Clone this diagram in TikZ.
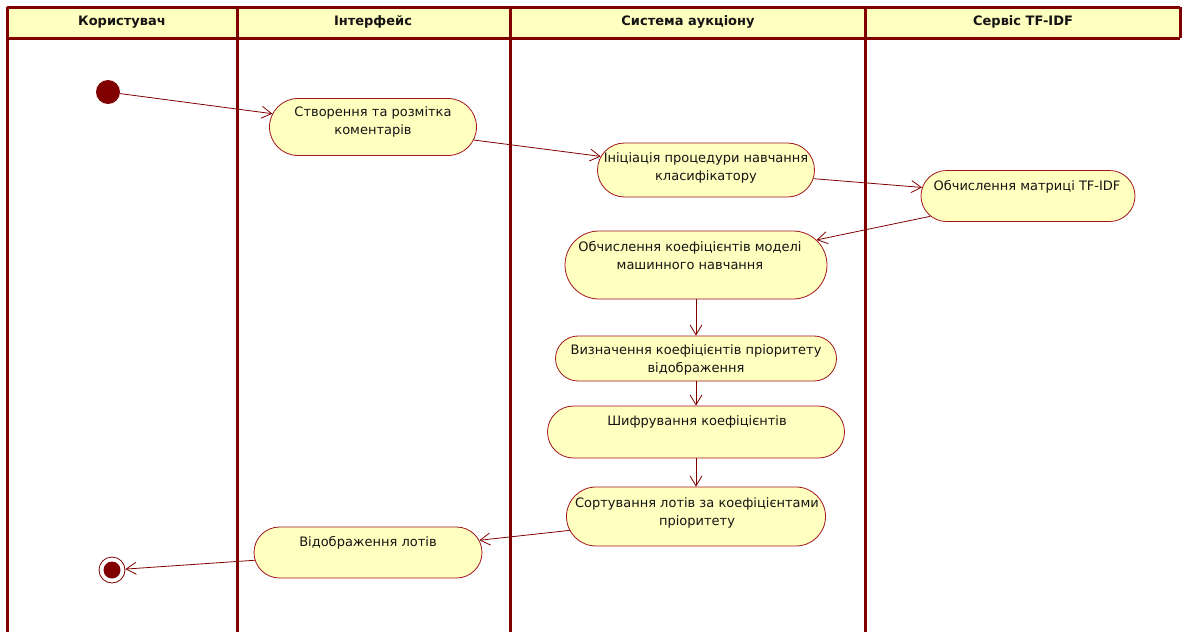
\documentclass[tikz,border=0pt]{standalone}
\usepackage{fontspec}
\setmainfont{DejaVu Sans}
\usetikzlibrary{shapes.misc,arrows.meta}
\definecolor{lane}{RGB}{128,0,0}
\definecolor{hdr}{RGB}{255,255,192}
\definecolor{actfill}{RGB}{255,255,192}
\definecolor{actline}{RGB}{160,20,30}
\definecolor{txt}{RGB}{20,20,20}
\tikzset{
  lanestyle/.style={draw=lane, line width=3pt},
  headtext/.style={font=\bfseries\fontsize{13}{15}\selectfont, text=txt, anchor=center},
  act/.style={rounded rectangle, draw=actline, fill=actfill, line width=0.8pt, inner sep=0pt},
  lbl/.style={font=\fontsize{13}{18}\selectfont, text=txt, align=center, inner sep=0pt},
  flow/.style={draw=lane, line width=0.8pt, -{Straight Barb[length=10pt,width=12pt,line width=0.8pt]}},
}
\begin{document}
\begin{tikzpicture}[x=1pt,y=-1pt]
\useasboundingbox (0,0) rectangle (1182,632);
% header
\fill[hdr] (7,7) rectangle (1180,38);
\draw[lanestyle] (7,7) -- (1180,7);
\draw[lanestyle] (7,38) -- (1180,38);
\draw[lanestyle] (7,7) -- (7,632);
\draw[lanestyle] (237,7) -- (237,632);
\draw[lanestyle] (510,7) -- (510,632);
\draw[lanestyle] (865,7) -- (865,632);
\draw[lanestyle] (1180,7) -- (1180,38);
\node[headtext] (h1) at (122,22) {Користувач};
\node[headtext] (h2) at (373,22) {Інтерфейс};
\node[headtext] (h3) at (688,22) {Система аукціону};
\node[headtext] (h4) at (1023,22) {Сервіс TF-IDF};
% start
\node[circle, fill=lane, minimum size=24pt, inner sep=0pt] (start) at (108,92) {};
% activities
\node[act, minimum width=207pt, minimum height=57pt] (A) at (373,127) {};
\node[lbl] (tA) at (373,122) {Створення та розмітка\\коментарів};
\node[act, minimum width=217pt, minimum height=54pt] (B) at (706,170) {};
\node[lbl] (tB) at (706,168) {Ініціація процедури навчання\\класифікатору};
\node[act, minimum width=214pt, minimum height=51pt] (C) at (1028,196) {};
\node[lbl] (tC) at (1027,187) {Обчислення матриці TF-IDF};
\node[act, minimum width=262pt, minimum height=68pt] (D) at (696,265) {};
\node[lbl] (tD) at (690,255.5) {Обчислення коефіцієнтів моделі\\машинного навчання};
\node[act, minimum width=281pt, minimum height=45pt] (E) at (696,358.5) {};
\node[lbl] (tE) at (696,359.5) {Визначення коефіцієнтів пріоритету\\відображення};
\node[act, minimum width=297pt, minimum height=52pt] (F) at (696,432) {};
\node[lbl] (tF) at (697,422) {Шифрування коефіцієнтів};
\node[act, minimum width=259pt, minimum height=59pt] (G) at (696,516.5) {};
\node[lbl] (tG) at (697,513) {Сортування лотів за коефіцієнтами\\пріоритету};
\node[act, minimum width=228pt, minimum height=51pt] (H) at (368,552.5) {};
\node[lbl] (tH) at (368,543) {Відображення лотів};
% end
\node[circle, draw=lane, fill=white, line width=0.8pt, minimum size=26pt, inner sep=0pt] (end) at (112,570) {};
\node[circle, fill=lane, minimum size=17pt, inner sep=0pt] (endin) at (112,570) {};
% flows
\draw[flow] (start) -- (A);
\draw[flow] (A) -- (B);
\draw[flow] (B) -- (C);
\draw[flow] (C) -- (D);
\draw[flow] (D) -- (E);
\draw[flow] (E) -- (F);
\draw[flow] (F) -- (G);
\draw[flow] (G) -- (H);
\draw[flow] (H) -- (end);
\end{tikzpicture}
\end{document}
